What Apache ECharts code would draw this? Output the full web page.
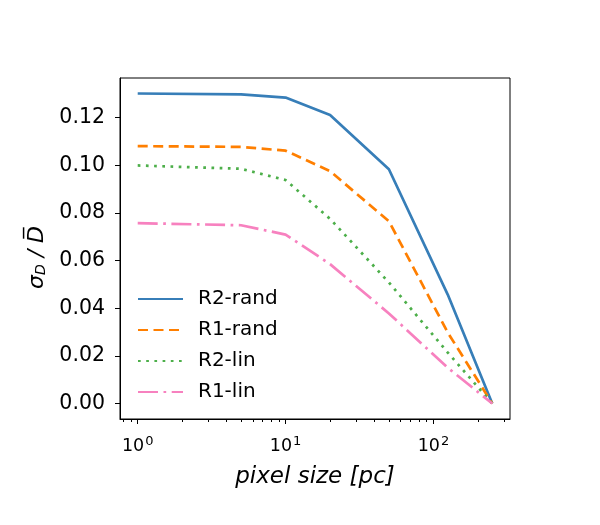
<!DOCTYPE html>
<html>
<head>
<meta charset="utf-8">
<script src="https://cdn.jsdelivr.net/npm/echarts@6/dist/echarts.min.js"></script>
</head>
<body style="margin:0">
<div id="container" style="width:600px;height:525px"></div>
<script>
// values
const pixelSize = [1, 5, 10, 20, 50, 125, 250];
const r2Rand = [0.1301, 0.1297, 0.1284, 0.1211, 0.0983, 0.0457, 0];
const r1Rand = [0.1080, 0.1077, 0.1061, 0.0975, 0.0765, 0.0298, 0];
const r2Lin = [0.0999, 0.0985, 0.0938, 0.0775, 0.0508, 0.0214, 0];
const r1Lin = [0.0757, 0.0748, 0.0709, 0.0585, 0.0378, 0.0150, 0];
const yTicks = [0, 0.02, 0.04, 0.06, 0.08, 0.10, 0.12];
const xMajor = [1, 10, 100];
const xMinor = [0.8, 0.9, 2, 3, 4, 5, 6, 7, 8, 9, 20, 30, 40, 50, 60, 70, 80, 90, 200, 300];

const font = 'DejaVu Sans';
let chart = echarts.init(document.getElementById('container'));

function line(name, ys, color, dash) {
  return {
    name: name,
    type: 'line',
    symbol: 'none',
    data: pixelSize.map((x, i) => [x, ys[i]]),
    lineStyle: { color: color, width: 2.7, type: dash, cap: 'butt' },
    itemStyle: { color: color }
  };
}

const xBase = {
  type: 'log',
  logBase: 10,
  min: 0.759,
  max: 329.6,
  gridIndex: 0,
  position: 'bottom',
  splitLine: { show: false }
};

chart.setOption({
  animation: false,
  textStyle: { fontFamily: font },
  grid: { left: 120, top: 78, width: 390, height: 341, show: true, borderColor: '#000', borderWidth: 1 },
  legend: {
    orient: 'vertical',
    left: 132,
    top: 284,
    itemWidth: 45,
    itemHeight: 20,
    itemGap: 11,
    textStyle: { fontSize: 20, color: '#000', fontFamily: font, padding: [0, 0, 0, 10] },
    itemStyle: { opacity: 0 },
    data: ['R2-rand', 'R1-rand', 'R2-lin', 'R1-lin']
  },
  xAxis: [
    Object.assign({}, xBase, {
      name: 'pixel size [pc]',
      nameLocation: 'middle',
      nameGap: 47,
      nameTextStyle: { fontSize: 23, fontStyle: 'italic', color: '#000', fontFamily: font },
      axisLine: { onZero: false, lineStyle: { color: '#000', width: 1 } },
      axisTick: { customValues: xMajor, length: 5, lineStyle: { color: '#000' } },
      axisLabel: {
        customValues: xMajor,
        margin: 16,
        formatter: v => '{a|10}{b|' + Math.round(Math.log10(v)) + '}',
        rich: {
          a: { fontSize: 17.5, color: '#000', fontFamily: font },
          b: { fontSize: 13, color: '#000', fontFamily: font, padding: [0, 0, 10, 1] }
        }
      }
    }),
    Object.assign({}, xBase, {
      axisLine: { show: false, onZero: false },
      axisLabel: { show: false },
      axisTick: { customValues: xMinor, length: 3, lineStyle: { color: '#000' } }
    })
  ],
  yAxis: {
    type: 'value',
    min: -0.0065,
    max: 0.1366,
    splitLine: { show: false },
    axisLine: { show: true, lineStyle: { color: '#000', width: 1 } },
    axisTick: { show: true, customValues: yTicks, length: 5, lineStyle: { color: '#000' } },
    axisLabel: {
      customValues: yTicks,
      margin: 15,
      fontSize: 20.5,
      color: '#000',
      formatter: v => v.toFixed(2)
    },
    name: '{s|σ}{sub|D}{s| / D\u0305}',
    nameLocation: 'middle',
    nameGap: 64,
    nameRotate: 90,
    nameTextStyle: {
      padding: [0, 18, 0, 0],
      rich: {
        s: { fontSize: 22, fontStyle: 'italic', color: '#000', fontFamily: font },
        sub: { fontSize: 14, fontStyle: 'italic', color: '#000', fontFamily: font, padding: [9, 0, 0, 0] }
      }
    }
  },
  series: [
    line('R2-rand', r2Rand, '#377eb8', 'solid'),
    line('R1-rand', r1Rand, '#ff7f00', [10, 5.5]),
    line('R2-lin', r2Lin, '#4daf4a', [2.7, 5.5]),
    line('R1-lin', r1Lin, '#f781bf', [20, 5.5, 2.7, 5.5])
  ]
});
</script>
</body>
</html>
